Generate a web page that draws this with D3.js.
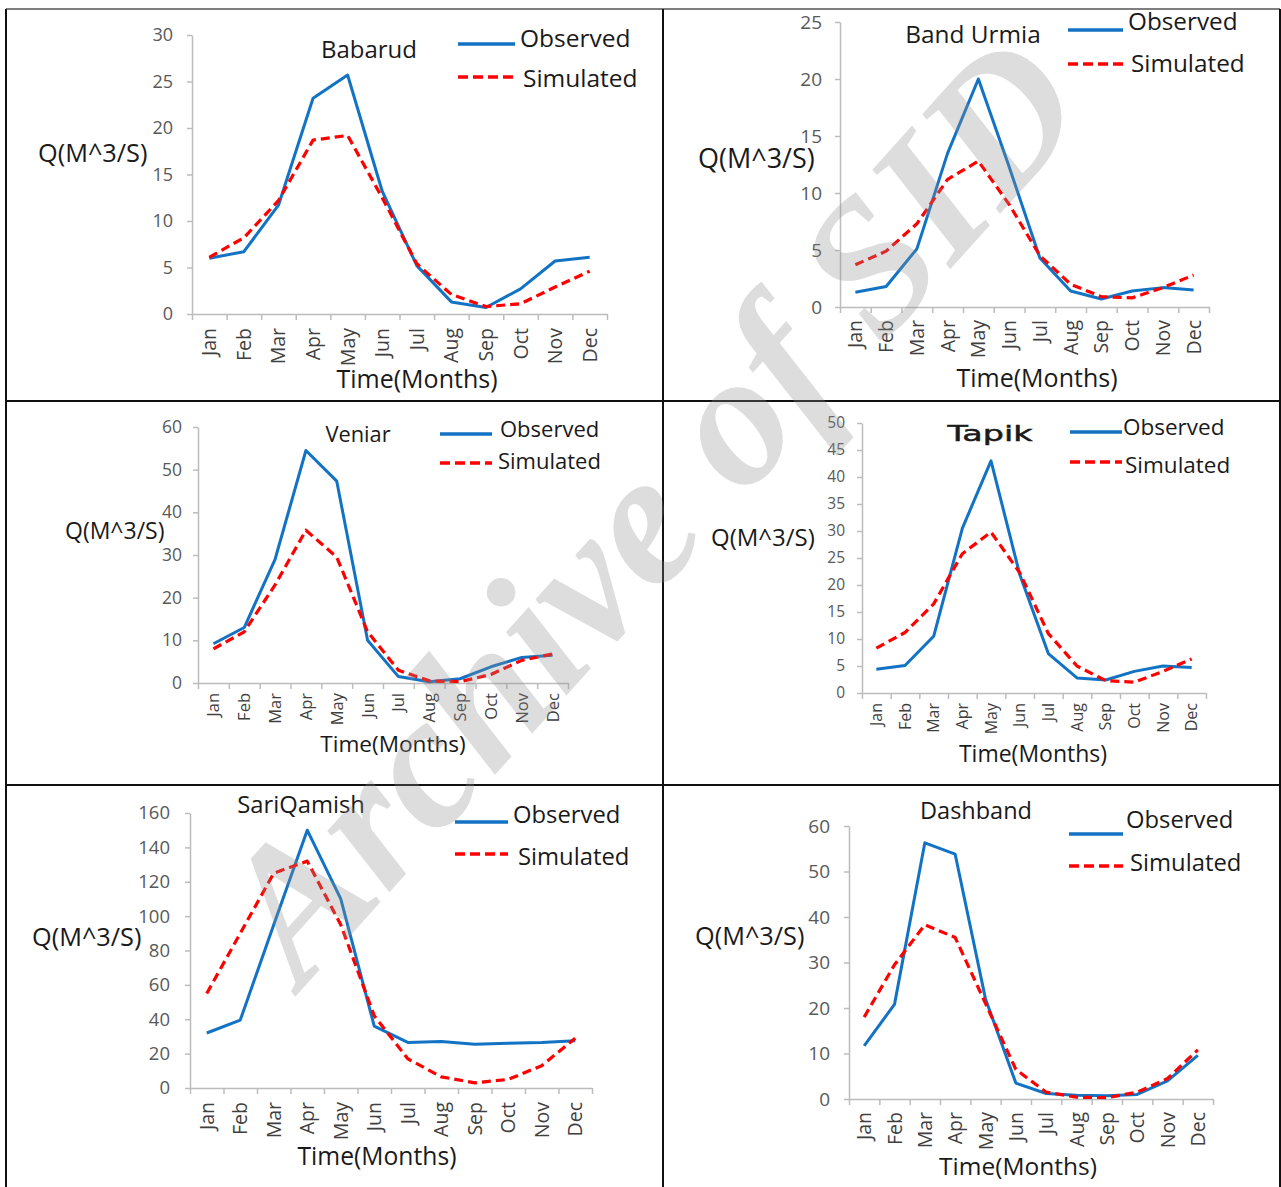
<!DOCTYPE html>
<html>
<head>
<meta charset="utf-8">
<script src="https://cdn.jsdelivr.net/npm/d3@7"></script>
<style>
  html, body { margin: 0; padding: 0; background: #fff; }
  svg { display: block; }
  text { font-family: "Open Sans", sans-serif; }
</style>
</head>
<body>
<svg id="chart" width="1281" height="1187"></svg>
<script>
// ---------- DATA ----------
const months = ["Jan","Feb","Mar","Apr","May","Jun","Jul","Aug","Sep","Oct","Nov","Dec"];
const stations = ["Babarud","Band Urmia","Veniar","Tapik","SariQamish","Dashband"];
const seriesNames = ["Observed","Simulated"];

const babarudObs = [6.0, 6.7, 11.7, 23.2, 25.7, 13.2, 5.2, 1.3, 0.7, 2.7, 5.7, 6.1];
const babarudSim = [6.1, 8.2, 12.2, 18.7, 19.2, 12.5, 5.4, 2.1, 0.8, 1.1, 2.9, 4.6];
const babarudTicks = [0, 5, 10, 15, 20, 25, 30];

const bandUrmiaObs = [1.3, 1.8, 5.1, 13.5, 20.0, 12.3, 4.3, 1.4, 0.7, 1.4, 1.7, 1.5];
const bandUrmiaSim = [3.7, 4.9, 7.3, 11.2, 12.8, 9.0, 4.5, 2.0, 0.9, 0.8, 1.7, 2.8];
const bandUrmiaTicks = [0, 5, 10, 15, 20, 25];

const veniarObs = [9.2, 13.0, 29.0, 54.5, 47.3, 10.0, 1.5, 0.3, 1.0, 3.8, 6.0, 6.5];
const veniarSim = [8.0, 12.0, 23.0, 35.8, 29.5, 12.0, 3.0, 0.5, 0.3, 2.0, 5.3, 6.8];
const veniarTicks = [0, 10, 20, 30, 40, 50, 60];

const tapikObs = [4.4, 5.1, 10.5, 30.5, 43.0, 22.0, 7.3, 2.8, 2.4, 4.0, 5.0, 4.7];
const tapikSim = [8.3, 11.2, 16.5, 25.8, 29.8, 22.3, 11.0, 5.0, 2.3, 2.0, 4.0, 6.3];
const tapikTicks = [0, 5, 10, 15, 20, 25, 30, 35, 40, 45, 50];

const sariQamishObs = [32, 39.5, 95, 150, 110, 36, 26.5, 27, 25.5, 26, 26.5, 27.5];
const sariQamishSim = [55, 90, 125, 132, 95, 42, 17, 6.5, 3, 5, 13, 29];
const sariQamishTicks = [0, 20, 40, 60, 80, 100, 120, 140, 160];

const dashbandObs = [11.7, 20.8, 56.3, 53.8, 22.0, 3.5, 1.2, 0.8, 0.7, 1.0, 4.0, 9.6];
const dashbandSim = [18.0, 29.5, 38.3, 35.5, 21.0, 6.5, 1.5, 0.4, 0.3, 1.5, 4.5, 10.8];
const dashbandTicks = [0, 10, 20, 30, 40, 50, 60];

const yTitleText = "Q(M^3/S)";
const xTitleText = "Time(Months)";
const watermarkText = "Archive of SID";

// ---------- LAYOUT (positions/styles) ----------
const layout = [
  { x0:192, x1:607, y0:314, y1:35, tickRight:173, tickFont:18, monthFont:19.5, monthGap:14,
    title:{x:369, y:58, size:24}, leg:{lx0:458, lx1:515, oy:44, otx:520, oby:47, sy:77, stx:523, sby:87, size:24.5},
    xt:{x:417, y:388, size:25}, yt:{x:38, y:162, size:25.3} },
  { x0:840, x1:1209, y0:307, y1:22, tickRight:822, tickFont:19, monthFont:19.5, monthGap:13,
    title:{x:973, y:43, size:24.4}, leg:{lx0:1068, lx1:1123, oy:30, otx:1128, oby:30, sy:64, stx:1131, sby:72, size:24.3},
    xt:{x:1037, y:387, size:25}, yt:{x:698, y:168, size:27} },
  { x0:198, x1:568, y0:683, y1:427, tickRight:182, tickFont:17.5, monthFont:16.5, monthGap:10,
    title:{x:358, y:442, size:21.8}, leg:{lx0:440, lx1:492, oy:434, otx:500, oby:437, sy:463, stx:498, sby:469, size:22},
    xt:{x:393, y:752, size:22.6}, yt:{x:65, y:539, size:23} },
  { x0:862, x1:1206, y0:693, y1:423, tickRight:845, tickFont:15.5, monthFont:16, monthGap:10,
    title:{x:990, y:441, size:22, font:"DejaVu Sans", stroke:0.5, len:85}, leg:{lx0:1070, lx1:1122, oy:432, otx:1123, oby:435, sy:462, stx:1125, sby:473, size:22.5},
    xt:{x:1033, y:762, size:23}, yt:{x:711, y:546, size:24} },
  { x0:190, x1:592, y0:1088, y1:813, tickRight:170, tickFont:18.5, monthFont:19.5, monthGap:14,
    title:{x:301, y:813, size:23.8}, leg:{lx0:455, lx1:508, oy:822, otx:513, oby:823, sy:854, stx:518, sby:865, size:23.8},
    xt:{x:377, y:1165, size:24.7}, yt:{x:32, y:946, size:25.3} },
  { x0:849, x1:1213, y0:1099, y1:826, tickRight:830, tickFont:19, monthFont:19.5, monthGap:13,
    title:{x:976, y:819, size:23.5}, leg:{lx0:1069, lx1:1123, oy:834, otx:1126, oby:828, sy:866, stx:1130, sby:871, size:23.8},
    xt:{x:1018, y:1175, size:24.5}, yt:{x:695, y:945, size:25.3} }
];

const obsData = [babarudObs, bandUrmiaObs, veniarObs, tapikObs, sariQamishObs, dashbandObs];
const simData = [babarudSim, bandUrmiaSim, veniarSim, tapikSim, sariQamishSim, dashbandSim];
const tickData = [babarudTicks, bandUrmiaTicks, veniarTicks, tapikTicks, sariQamishTicks, dashbandTicks];

const OBS_COLOR = "#1273c4";
const SIM_COLOR = "#ff0000";
const AXIS_COLOR = "#bcbcbc";

const svg = d3.select("#chart");

// Frame lines
const frame = svg.append("g").attr("stroke", "#111").attr("stroke-width", 2);
frame.append("line").attr("x1", 6).attr("x2", 1280).attr("y1", 9).attr("y2", 9).attr("stroke", "#555").attr("stroke-width", 1.5);
frame.append("line").attr("x1", 6).attr("x2", 6).attr("y1", 9).attr("y2", 1187);
frame.append("line").attr("x1", 1280).attr("x2", 1280).attr("y1", 9).attr("y2", 1187);
frame.append("line").attr("x1", 663).attr("x2", 663).attr("y1", 9).attr("y2", 1187);
frame.append("line").attr("x1", 6).attr("x2", 1280).attr("y1", 401).attr("y2", 401);
frame.append("line").attr("x1", 6).attr("x2", 1280).attr("y1", 785).attr("y2", 785);

stations.forEach((name, i) => {
  const L = layout[i];
  const ticks = tickData[i];
  const g = svg.append("g");

  const x = d3.scaleBand().domain(months).range([L.x0, L.x1]).padding(0);
  const xb = d3.scaleLinear().domain([0, months.length]).range([L.x0, L.x1]);
  const y = d3.scaleLinear().domain([0, d3.max(ticks)]).range([L.y0, L.y1]);

  // Y axis
  const yAxis = g.append("g").attr("transform", `translate(${L.x0},0)`)
    .call(d3.axisLeft(y).tickValues(ticks).tickSize(5).tickSizeOuter(0)
      .tickPadding(L.x0 - 5 - L.tickRight));
  yAxis.select(".domain").attr("stroke", AXIS_COLOR).attr("stroke-width", 1.5);
  yAxis.selectAll(".tick line").attr("stroke", AXIS_COLOR).attr("stroke-width", 1.5);
  yAxis.selectAll(".tick text").attr("fill", "#595959").style("font-size", L.tickFont + "px")
    .style("font-family", "'Open Sans', sans-serif");

  // X axis boundary ticks
  const xAxisB = g.append("g").attr("transform", `translate(0,${L.y0})`)
    .call(d3.axisBottom(xb).tickValues(d3.range(0, months.length + 1)).tickSize(6).tickSizeOuter(0).tickFormat(""));
  xAxisB.select(".domain").attr("stroke", AXIS_COLOR).attr("stroke-width", 1.5);
  xAxisB.selectAll(".tick line").attr("stroke", AXIS_COLOR).attr("stroke-width", 1.5);

  // Month labels
  const xAxis = g.append("g").attr("transform", `translate(0,${L.y0})`)
    .call(d3.axisBottom(x).tickSize(0).tickPadding(0));
  xAxis.select(".domain").remove();
  xAxis.selectAll(".tick text")
    .attr("fill", "#404040")
    .style("font-size", L.monthFont + "px")
    .style("font-family", "'Open Sans', sans-serif")
    .attr("text-anchor", "end")
    .attr("transform", `translate(0,${L.monthGap}) rotate(-90)`)
    .attr("x", 0).attr("y", 0).attr("dy", "0.36em");

  // Lines
  const line = d3.line().x((d, j) => x(months[j]) + x.bandwidth() / 2).y(d => y(d));
  g.append("path").datum(obsData[i]).attr("d", line)
    .attr("fill", "none").attr("stroke", OBS_COLOR).attr("stroke-width", 3).attr("stroke-linejoin", "round");
  g.append("path").datum(simData[i]).attr("d", line)
    .attr("fill", "none").attr("stroke", SIM_COLOR).attr("stroke-width", 3.2)
    .attr("stroke-dasharray", "9,5").attr("stroke-linejoin", "round");

  // Title
  const t = g.append("text").attr("x", L.title.x).attr("y", L.title.y)
    .attr("text-anchor", "middle").attr("fill", "#1a1a1a")
    .style("font-size", L.title.size + "px").text(name);
  if (L.title.font) t.style("font-family", L.title.font);
  if (L.title.stroke) t.attr("stroke", "#1a1a1a").attr("stroke-width", L.title.stroke);
  if (L.title.len) t.attr("textLength", L.title.len).attr("lengthAdjust", "spacingAndGlyphs");

  // Legend
  const lg = L.leg;
  g.append("line").attr("x1", lg.lx0).attr("x2", lg.lx1).attr("y1", lg.oy).attr("y2", lg.oy)
    .attr("stroke", OBS_COLOR).attr("stroke-width", 3.5);
  g.append("text").attr("x", lg.otx).attr("y", lg.oby).attr("fill", "#1a1a1a")
    .style("font-size", lg.size + "px").text(seriesNames[0]);
  g.append("line").attr("x1", lg.lx0).attr("x2", lg.lx1).attr("y1", lg.sy).attr("y2", lg.sy)
    .attr("stroke", SIM_COLOR).attr("stroke-width", 3.5).attr("stroke-dasharray", "10,5");
  g.append("text").attr("x", lg.stx).attr("y", lg.sby).attr("fill", "#1a1a1a")
    .style("font-size", lg.size + "px").text(seriesNames[1]);

  // Axis titles
  g.append("text").attr("x", L.xt.x).attr("y", L.xt.y).attr("text-anchor", "middle")
    .attr("fill", "#1a1a1a").style("font-size", L.xt.size + "px").text(xTitleText);
  g.append("text").attr("x", L.yt.x).attr("y", L.yt.y)
    .attr("fill", "#1a1a1a").style("font-size", L.yt.size + "px").text(yTitleText);
});

// Watermark
svg.append("text")
  .attr("transform", "translate(655,512) rotate(-48)")
  .attr("text-anchor", "middle").attr("dy", "0.3em")
  .style("font-family", "'Liberation Serif', serif")
  .style("font-weight", "bold").style("font-style", "italic")
  .style("font-size", "190px")
  .attr("fill", "#909090").attr("fill-opacity", 0.3)
  .text(watermarkText);
</script>
</body>
</html>
